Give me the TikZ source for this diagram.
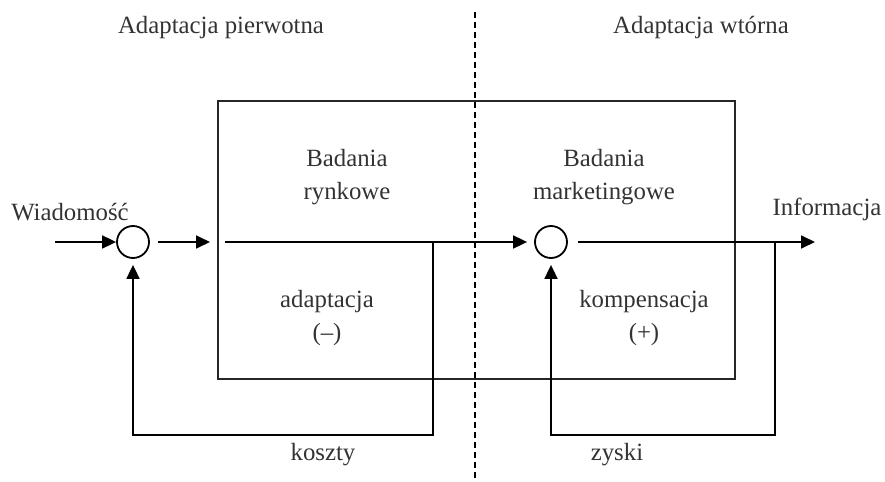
\documentclass[tikz,border=0pt]{standalone}
\usepackage{fontspec}
\setmainfont{Liberation Serif}
\usetikzlibrary{arrows.meta}
\begin{document}
\begin{tikzpicture}[x=0.5pt,y=-0.5pt,
  every node/.style={font=\fontsize{12.4}{16.5}\selectfont, text=black!80, inner sep=0pt},
  lbl/.style={align=center},
  sumnode/.style={circle, draw, line width=0.9pt, minimum size=16pt},
  conn/.style={line width=0.9pt, -{Triangle[length=7pt,width=6.5pt]}},
  plain/.style={line width=0.9pt},
  boxline/.style={line width=0.9pt, black!85},
  divider/.style={line width=0.8pt, dash pattern=on 3pt off 2pt}]
\useasboundingbox (0,0) rectangle (885,482);
% divider
\coordinate (dtop) at (475,12);
\coordinate (dbot) at (475,482);
\draw[divider] (dtop) -- (dbot);
% headings
\node[lbl] (h1) at (221,28) {Adaptacja pierwotna};
\node[lbl] (h2) at (701,28) {Adaptacja wtórna};
% box
\node[draw, boxline, minimum width=258.5pt, minimum height=139pt, anchor=north west] (box) at (217,100) {};
% texts inside
\node[lbl] (br) at (347,177) {Badania\\rynkowe};
\node[lbl] (bm) at (604,177) {Badania\\marketingowe};
\node[lbl] (ad) at (327,318) {adaptacja\\(–)};
\node[lbl] (ko) at (644,318) {kompensacja\\(+)};
\node[lbl] (wi) at (70,212) {Wiadomość};
\node[lbl] (in) at (827,209) {Informacja};
\node[lbl] (kz) at (323,455) {koszty};
\node[lbl] (zy) at (617,455) {zyski};
% sum nodes
\node[sumnode] (c1) at (133,242) {};
\node[sumnode] (c2) at (551,242) {};
% coordinates
\coordinate (win) at (55,242);
\coordinate (b1) at (210,242);
\coordinate (b2) at (225,242);
\coordinate (tap1) at (433,242);
\coordinate (tap1b) at (433,435);
\coordinate (fb1) at (133,435);
\coordinate (out) at (815,242);
\coordinate (tap2) at (775,242);
\coordinate (tap2b) at (775,435);
\coordinate (fb2) at (551,435);
% connectors
\draw[conn] (win) -- (c1);
\draw[conn, shorten <=4pt] (c1) -- (b1);
\draw[conn, shorten >=3.5pt] (b2) -- (c2);
\draw[conn, shorten <=5pt] (c2) -- (out);
\draw[conn, shorten >=3pt] (tap1) -- (tap1b) -- (fb1) -- (c1);
\draw[conn, shorten >=3pt] (tap2) -- (tap2b) -- (fb2) -- (c2);
\end{tikzpicture}
\end{document}
